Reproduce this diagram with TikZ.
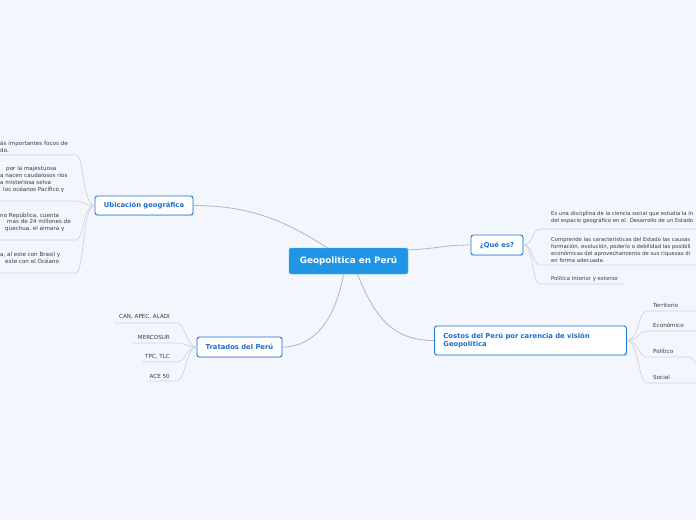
\documentclass[tikz,border=0pt]{standalone}
\usepackage{fontspec}
\setmainfont{DejaVu Sans}
\usepackage{tikz,xcolor}
\usetikzlibrary{calc,shadows}

\definecolor{fondo}{HTML}{F3F6FD}
\definecolor{azul}{HTML}{1F95E6}
\definecolor{borde}{HTML}{1C74D4}
\definecolor{letra}{HTML}{1A6ED2}
\definecolor{gris}{HTML}{B3B4BC}
\definecolor{grisclaro}{HTML}{CFD3DE}
\definecolor{texto}{HTML}{3A3A3A}

\begin{document}
\begin{tikzpicture}[x=1pt,y=-1pt,
  central/.style={fill=azul,draw=azul!70!white,rounded corners=2pt,text=white,font=\bfseries\fontsize{8.8}{10}\selectfont,minimum width=119pt,minimum height=26pt,inner sep=0pt},
  tema/.style={fill=white,draw=borde,line width=0.9pt,rounded corners=2.5pt,text=letra,font=\bfseries\fontsize{6.8}{8.6}\selectfont,inner sep=0pt,drop shadow={shadow xshift=0.5pt,shadow yshift=-0.8pt,opacity=0.2}},
  hoja/.style={text=texto,font=\fontsize{5.6}{6.8}\selectfont,inner sep=0pt,anchor=base west},
  hojachica/.style={hoja,font=\fontsize{5.3}{6.8}\selectfont},
  enlace/.style={draw=gris,line width=0.8pt},
  rama/.style={draw=grisclaro,line width=0.7pt}]
\useasboundingbox (0,0) rectangle (696,520);
\fill[fondo] (0,0) rectangle (696,520);
\clip (0,0) rectangle (696,520);

\node[central] (geo) at (348.5,261) {Geopolitica en Perú};

% Ubicacion geografica
\node[tema,minimum width=98pt,minimum height=19pt] (ubi) at (144,205.5) {Ubicación geográfica};
\draw[enlace] ([xshift=-21pt]geo.north) .. controls +(-40,-25) and +(60,0) .. (ubi.east);

\foreach \y [count=\i] in {155,201,240,273}{
  \coordinate (u\i) at (76,\y); \coordinate (u\i f) at (-2,\y);
  \draw[rama] (ubi.west) .. controls +(-12,0) and +(8,0) .. (u\i) -- (u\i f);
}
\node[hoja] (ubi1a) at (0,145) {ás importantes focos de};
\node[hoja] (ubi1b) at (0,152) {do.};
\node[hoja] (ubi2a) at (6,170) {por la majestuosa};
\node[hoja] (ubi2b) at (0,177) {a nacen caudalosos ríos};
\node[hoja] (ubi2c) at (0,184) {a misteriosa selva};
\node[hoja] (ubi2d) at (3,191) {los océanos Pacífico y};
\node[hoja] (ubi3a) at (0,217) {no República, cuenta};
\node[hoja] (ubi3b) at (7,223.5) {más de 24 millones de};
\node[hoja] (ubi3c) at (5,230) {quechua, el aimara y};
\node[hoja] (ubi4a) at (0,256) {a, al este con Brasil y};
\node[hoja] (ubi4b) at (5,263) {este con el Océano};

% Que es
\node[tema,minimum width=52pt,minimum height=20pt] (que) at (497,245) {¿Qué es?};
\draw[enlace] ([yshift=-2pt]geo.north east) .. controls +(30,-1) and +(-28,0) .. (que.west);

\coordinate (q1) at (540,229); \coordinate (q1f) at (698,229);
\coordinate (q2) at (540,265); \coordinate (q2f) at (698,265);
\coordinate (q3) at (540,284); \coordinate (q3f) at (625,284);
\foreach \i in {1,2,3}{
  \draw[rama] (que.east) .. controls +(10,0) and +(-8,0) .. (q\i) -- (q\i f);
}
\node[hojachica] (que1a) at (551,215) {Es una disciplina de la ciencia social que estudia la in};
\node[hojachica] (que1b) at (551,222) {del espacio geográfico en el. Desarrollo de un Estado};
\node[hojachica] (que2a) at (551,241) {Comprende las características del Estado las causas};
\node[hojachica] (que2b) at (551,248) {formación, evolución, poderío o debilidad las posibili};
\node[hojachica] (que2c) at (551,255) {económicas del aprovechamiento de sus riquezas di};
\node[hojachica] (que2d) at (551,262) {en forma adecuada.};
\node[hojachica] (que3) at (551,280) {Política Interior y exterior};

% Costos
\node[tema,minimum height=29pt,text width=174pt,inner xsep=9pt,align=left,anchor=west] (cos) at (434,340.5) {Costos del Perú por carencia de visión Geopolitica};
\draw[enlace] ([xshift=9pt]geo.south) .. controls +(18,45) and +(-40,0) .. (cos.west);

\coordinate (c1) at (647,311); \coordinate (c1f) at (698,311);
\coordinate (c2) at (647,331); \coordinate (c2f) at (698,331);
\coordinate (c3) at (647,357); \coordinate (c3f) at (688,357);
\coordinate (c4) at (647,383); \coordinate (c4f) at (698,383);
\foreach \i in {1,2,3,4}{
  \draw[rama] (cos.east) .. controls +(12,0) and +(-9,0) .. (c\i) -- (c\i f);
}
\coordinate (c5) at (700,365);
\draw[rama] (c3f) .. controls +(6,0) and +(-6,0) .. (c5);
\node[hoja] (cos1) at (653,307) {Territorio};
\node[hoja] (cos2) at (653,327) {Económico};
\node[hoja] (cos3) at (653,353) {Político};
\node[hoja] (cos4) at (653,379) {Social};

% Tratados
\node[tema,minimum width=85pt,minimum height=20pt] (tra) at (239.5,347) {Tratados del Perú};
\draw[enlace] ([xshift=-5pt]geo.south) .. controls +(-8,45) and +(32,0) .. (tra.east);

\foreach \y/\x [count=\i] in {323/114,343/133,362/142,381/147}{
  \coordinate (t\i) at (177,\y); \coordinate (t\i f) at (\x,\y);
  \draw[rama] (tra.west) .. controls +(-10,0) and +(8,0) .. (t\i) -- (t\i f);
}
\node[hoja,anchor=base east] (tra1) at (170,318) {CAN, APEC, ALADI};
\node[hoja,anchor=base east] (tra2) at (170,339) {MERCOSUR};
\node[hoja,anchor=base east] (tra3) at (170,358) {TPC, TLC};
\node[hoja,anchor=base east] (tra4) at (170,378) {ACE 50};

\end{tikzpicture}
\end{document}
